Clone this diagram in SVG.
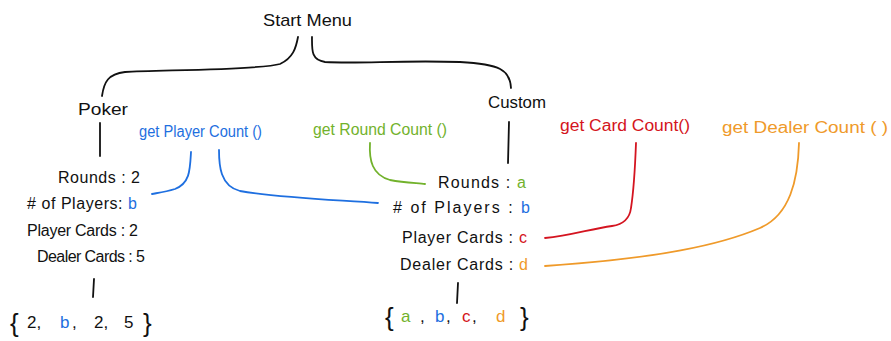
<svg xmlns="http://www.w3.org/2000/svg" width="891" height="341" viewBox="0 0 891 341">
<style>
text{font-family:"Liberation Sans","DejaVu Sans",sans-serif;font-size:16px;fill:#111}
.t{font-size:17px}
.br{font-size:26px}
.lb{font-size:16px}
.bl{fill:#1e6fe0}.gr{fill:#72b22c}.rd{fill:#d41420}.or{fill:#ef9a2a}
.c path{fill:none;stroke-width:1.8;stroke-linecap:round}
.k{stroke:#111}.sb{stroke:#1e6fe0}.sg{stroke:#72b22c}.sr{stroke:#d41420}.so{stroke:#ef9a2a}
</style>
<rect width="891" height="341" fill="#fff"/>
<g class="c" id="connectors">
<path class="k" d="M298,37 C296,48 293,58 280,64 C260,70 160,70 125,72 C108,74 104,82 102,96"/>
<path class="k" d="M312,37 C312,50 311,60 325,62 C360,64 400,60 460,62 C500,64 510,70 511,88"/>
<path class="k" d="M100,123 L100,156"/>
<path class="k" d="M509,122 L508,163"/>
<path class="k" d="M94,279 L93,297"/>
<path class="k" d="M458,283 L457,303"/>
<path class="sb" d="M191,152 C190,170 190,183 175,189 C165,192 157,193 152,194"/>
<path class="sb" d="M219,150 C219,165 220,186 240,191 C280,198 340,200 378,203"/>
<path class="sg" d="M370,143 C369,160 372,175 390,180 C405,183 418,183 425,184"/>
<path class="sr" d="M636,143 C635,170 633,195 631,208 C630,216 626,224 612,226 C590,229 570,236 545,238"/>
<path class="so" d="M799,143 C798,180 790,215 760,228 C720,245 660,258 545,266"/>
</g>
<g id="start"><text class="t" x="263" y="26" textLength="89" lengthAdjust="spacingAndGlyphs">Start Menu</text></g>
<g id="poker"><text class="t" x="78" y="115" textLength="50" lengthAdjust="spacingAndGlyphs">Poker</text></g>
<g id="custom"><text class="t" x="488" y="108" textLength="58" lengthAdjust="spacingAndGlyphs">Custom</text></g>
<g id="poker-fields">
<text x="58" y="183" textLength="82" lengthAdjust="spacing">Rounds : 2</text>
<text x="27" y="209" textLength="110" lengthAdjust="spacing"># of Players: <tspan class="bl">b</tspan></text>
<text x="27" y="236" textLength="111" lengthAdjust="spacing">Player Cards : 2</text>
<text x="37" y="262" textLength="108" lengthAdjust="spacing">Dealer Cards : 5</text>
</g>
<g id="poker-set">
<text class="br" x="10" y="332">{</text>
<text class="t" x="27" y="328">2,</text>
<text class="t bl" x="60" y="328">b</text><text class="t" x="72" y="328">,</text>
<text class="t" x="94" y="328">2,</text>
<text class="t" x="124" y="328">5</text>
<text class="br" x="143" y="332">}</text>
</g>
<g id="custom-fields">
<text x="438" y="188" textLength="88" lengthAdjust="spacing">Rounds  :  <tspan class="gr">a</tspan></text>
<text x="393" y="213" textLength="137" lengthAdjust="spacing"># of Players  :  <tspan class="bl">b</tspan></text>
<text x="402" y="243" textLength="125" lengthAdjust="spacing">Player Cards : <tspan class="rd">c</tspan></text>
<text x="400" y="270" textLength="128" lengthAdjust="spacing">Dealer Cards : <tspan class="or">d</tspan></text>
</g>
<g id="custom-set">
<text class="br" x="385" y="326">{</text>
<text class="t gr" x="401" y="322">a</text>
<text class="t" x="420" y="322">,</text>
<text class="t bl" x="435" y="322">b</text><text class="t" x="446" y="322">,</text>
<text class="t rd" x="462" y="322">c</text><text class="t" x="472" y="322">,</text>
<text class="t or" x="496" y="322">d</text>
<text class="br" x="520" y="326">}</text>
</g>
<g id="getPlayerCount"><text class="lb bl" x="139" y="137" textLength="123" lengthAdjust="spacingAndGlyphs">get Player Count ()</text></g>
<g id="getRoundCount"><text class="lb gr" x="313" y="135" textLength="134" lengthAdjust="spacingAndGlyphs">get Round Count ()</text></g>
<g id="getCardCount"><text class="lb rd" x="560" y="131" textLength="130" lengthAdjust="spacingAndGlyphs">get Card Count()</text></g>
<g id="getDealerCount"><text class="lb or" x="722" y="133" textLength="166" lengthAdjust="spacingAndGlyphs">get Dealer Count ( )</text></g>
</svg>
